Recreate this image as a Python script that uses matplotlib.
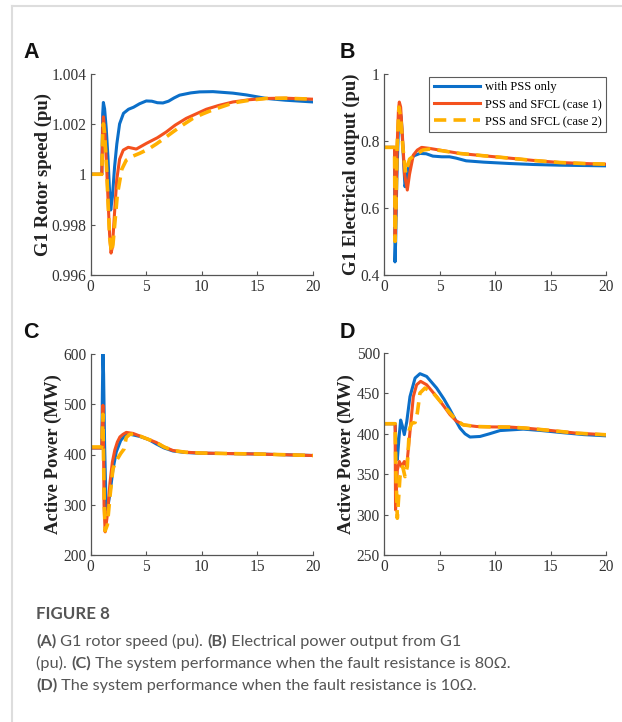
import matplotlib
matplotlib.use('Agg')
import matplotlib.pyplot as plt
from matplotlib.lines import Line2D

# ---- Panel A: G1 rotor speed (pu)
a_t_pss = [0, 1.0, 1.08, 1.14, 1.25, 1.4, 1.55, 1.7, 1.8, 1.95, 2.15, 2.35, 2.6, 2.95, 3.4, 3.85,
           4.4, 5.0, 5.5, 6.0, 6.5, 7.0, 7.5, 8.0, 9.0, 9.8, 11, 12.8, 14, 15.8, 17.5, 20]
a_pss = [1.0, 1.0, 1.0024, 1.00285, 1.0026, 1.0018, 1.0007, 0.9993, 0.99858, 0.9991, 1.0003, 1.0012,
         1.0020, 1.00242, 1.00258, 1.00266, 1.0028, 1.00291, 1.0029, 1.00284, 1.00283, 1.0029,
         1.00303, 1.00314, 1.00323, 1.00327, 1.00328, 1.00322, 1.00315, 1.00301, 1.00294, 1.00287]
a_t_c1 = [0, 1.0, 1.08, 1.14, 1.25, 1.4, 1.55, 1.7, 1.83, 1.95, 2.15, 2.34, 2.6, 2.93, 3.38, 4.1,
          5.03, 6.0, 6.8, 7.6, 8.6, 9.5, 10.4, 11.5, 12.8, 14.3, 15.8, 17.5, 20]
a_c1 = [1.0, 1.0, 1.0018, 1.00228, 1.0018, 1.0006, 0.9991, 0.9976, 0.99687, 0.9971, 0.9985, 0.99977,
        1.0006, 1.00096, 1.00107, 1.001, 1.00123, 1.00145, 1.00168, 1.00195, 1.00222, 1.0024,
        1.00258, 1.00273, 1.00287, 1.00296, 1.00301, 1.00302, 1.00298]
a_t_c2 = [0, 1.0, 1.08, 1.14, 1.25, 1.4, 1.55, 1.7, 1.87, 2.0, 2.2, 2.4, 2.8, 3.2, 3.8, 4.4, 5.2,
          5.9, 6.6, 7.4, 8.3, 9.2, 10.1, 11.0, 12.0, 12.8, 14.3, 15.8, 17.5, 20]
a_c2 = [1.0, 1.0, 1.0016, 1.002, 1.0016, 1.0005, 0.9990, 0.9975, 0.9969, 0.9972, 0.9982, 0.9992,
        1.0002, 1.00056, 1.00072, 1.00083, 1.001, 1.0012, 1.00142, 1.00168, 1.00196, 1.00222,
        1.0024, 1.00256, 1.00271, 1.00283, 1.00294, 1.00301, 1.00302, 1.00298]

# ---- Panel B: G1 electrical output (pu)
b_t_pss = [0, 0.95, 0.99, 1.05, 1.15, 1.3, 1.44, 1.55, 1.7, 1.89, 2.05, 2.34, 2.7, 3.24, 3.8,
           4.4, 5.2, 5.9, 6.5, 7.4, 9.0, 11.3, 13.5, 15.8, 18, 20]
b_pss = [0.78, 0.78, 0.439, 0.5, 0.68, 0.84, 0.886, 0.87, 0.78, 0.663, 0.69, 0.742, 0.755, 0.762,
         0.761, 0.754, 0.752, 0.752, 0.748, 0.74, 0.736, 0.732, 0.729, 0.727, 0.726, 0.725]
b_t_c1 = [0, 0.95, 1.0, 1.08, 1.18, 1.3, 1.38, 1.5, 1.65, 1.85, 2.1, 2.3, 2.64, 3.0, 3.39, 4.1,
          5.0, 6.8, 9.0, 11.3, 13.5, 15.8, 18, 20]
b_c1 = [0.78, 0.78, 0.514, 0.6, 0.78, 0.89, 0.915, 0.9, 0.82, 0.7, 0.653, 0.7, 0.757, 0.772,
        0.78, 0.777, 0.772, 0.762, 0.755, 0.748, 0.741, 0.735, 0.732, 0.73]
b_t_c2 = [0, 0.95, 1.0, 1.08, 1.18, 1.35, 1.5, 1.7, 1.95, 2.1, 2.3, 2.7, 3.1, 3.5, 4.1, 5.0, 6.8,
          9.0, 11.3, 13.5, 15.8, 18, 20]
b_c2 = [0.78, 0.78, 0.5, 0.6, 0.78, 0.90, 0.87, 0.78, 0.703, 0.72, 0.745, 0.755, 0.763, 0.772,
        0.775, 0.771, 0.762, 0.755, 0.748, 0.741, 0.735, 0.732, 0.73]

# ---- Panel C: active power (MW), fault resistance 80 ohm
c_t_pss = [0, 1.0, 1.05, 1.1, 1.16, 1.25, 1.38, 1.5, 1.75, 2.0, 2.3, 2.7, 3.1, 3.6, 4.4, 5.2,
           5.9, 6.6, 7.4, 8.5, 9.8, 12, 15, 17.5, 20]
c_pss = [413, 413, 520, 603, 560, 420, 300, 290, 325, 370, 405, 428, 438, 440, 436, 430, 421,
         413, 407, 404, 402.6, 402, 401, 399.5, 398]
c_t_c1 = [0, 1.0, 1.05, 1.1, 1.15, 1.2, 1.3, 1.5, 1.73, 1.95, 2.17, 2.4, 2.63, 2.9, 3.2, 3.8,
          4.4, 5.2, 5.9, 6.6, 7.4, 8.5, 9.8, 12, 15, 17.5, 20]
c_c1 = [413, 413, 460, 498, 420, 300, 246, 280, 343, 385, 409, 425, 435, 440, 444, 442, 437,
        430, 424, 415, 408, 404.6, 403, 402, 401, 399.5, 398]
c_t_c2 = [0, 1.0, 1.05, 1.1, 1.15, 1.22, 1.3, 1.5, 1.75, 2.0, 2.2, 2.4, 2.7, 3.0, 3.2, 3.5,
          3.9, 4.4, 5.2, 5.9, 6.6, 7.4, 8.5, 9.8, 12, 15, 17.5, 20]
c_c2 = [415, 415, 450, 480, 400, 300, 248, 260, 320, 371, 383, 391, 402, 411, 434, 440, 441,
        437, 430, 424, 415, 408, 404.6, 403, 402, 401, 399.5, 398]

# ---- Panel D: active power (MW), fault resistance 10 ohm
d_t_pss = [0, 1.0, 1.1, 1.2, 1.35, 1.5, 1.65, 1.83, 2.05, 2.34, 2.8, 3.24, 3.84, 4.74, 5.4,
           5.95, 6.4, 6.85, 7.3, 7.75, 8.65, 9.5, 10.45, 12.55, 14.2, 15.86, 18, 20]
d_pss = [412.5, 412.5, 385, 368, 395, 417, 410, 399, 415, 446, 469, 474.4, 471, 456.6, 443,
         429.8, 418, 407, 400, 396, 396.7, 400, 404, 405.8, 404, 401.7, 399, 397.5]
d_t_c1 = [0, 1.0, 1.04, 1.2, 1.38, 1.59, 1.83, 2.04, 2.3, 2.64, 2.94, 3.3, 3.84, 4.74, 5.4,
          5.95, 6.5, 7.15, 8.35, 9.8, 11.35, 12.8, 14.35, 15.8, 17.36, 20]
d_c1 = [412.5, 412.5, 305.8, 355, 365.7, 359.5, 365.7, 359.5, 396.7, 446, 460.7, 464.9, 460.7,
        446, 434, 423.6, 416, 411, 409, 408.5, 408.3, 407, 405, 403, 400.8, 398.8]
d_t_c2 = [0, 1.0, 1.08, 1.2, 1.44, 1.68, 1.89, 2.1, 2.28, 2.5, 2.8, 3.0, 3.24, 3.69, 4.44, 5.2,
          5.95, 6.5, 7.15, 8.35, 9.8, 11.35, 12.8, 14.35, 15.8, 17.36, 20]
d_c2 = [412.5, 412.5, 350, 295.5, 347, 359.5, 347, 359.5, 405, 413, 414, 425.6, 450.4, 456.6,
        450.4, 438, 425.6, 417, 411, 409, 408.5, 408.3, 407, 405, 403, 400.8, 398.8]

labels = ['with PSS only', 'PSS and SFCL (case 1)', 'PSS and SFCL (case 2)']
c_blue = '#0B6FC9'
c_red = '#F4511E'
c_yel = '#FFB000'

W, H = 622, 722
fig = plt.figure(figsize=(W / 100, H / 100), dpi=100)

# gray frame lines of the page
fig.add_artist(Line2D([12 / W, 12 / W], [0, 1 - 6 / H], color='#dddddd', lw=1.5))
fig.add_artist(Line2D([12 / W, 1], [1 - 6 / H, 1 - 6 / H], color='#dddddd', lw=1.5))


def make_ax(left, top, right, bottom):
    return fig.add_axes([left / W, 1 - bottom / H, (right - left) / W, (bottom - top) / H])


def style(ax, ylim, yticks, ylabels, ylabel, lab_x):
    ax.set_xlim(0, 20)
    ax.set_ylim(*ylim)
    ax.set_xticks([0, 5, 10, 15, 20])
    ax.set_yticks(yticks)
    ax.set_yticklabels(ylabels)
    for s in ['top', 'right']:
        ax.spines[s].set_visible(False)
    for s in ['left', 'bottom']:
        ax.spines[s].set_color('#555555')
        ax.spines[s].set_linewidth(0.9)
    ax.tick_params(direction='in', length=3, width=0.8, color='#555555',
                   labelcolor='#333333', labelsize=11.2, pad=3)
    for lbl in ax.get_xticklabels() + ax.get_yticklabels():
        lbl.set_fontfamily('Liberation Serif')
    ax.set_ylabel(ylabel, fontfamily='Liberation Serif', fontweight='bold', fontsize=13.5,
                  color='#222222')
    ax.yaxis.set_label_coords(lab_x, 0.5)


def draw(ax, tb, yb, tr, yr, ty, yy):
    ax.plot(tb, yb, color=c_blue, lw=2.2, label=labels[0], solid_joinstyle='round')
    ax.plot(tr, yr, color=c_red, lw=2.2, label=labels[1], solid_joinstyle='round')
    ax.plot(ty, yy, color=c_yel, lw=2.6, ls=(0, (3.4, 2.0)), label=labels[2])


axA = make_ax(90.7, 73.5, 313, 275)
draw(axA, a_t_pss, a_pss, a_t_c1, a_c1, a_t_c2, a_c2)
style(axA, (0.996, 1.004), [0.996, 0.998, 1.0, 1.002, 1.004],
      ['0.996', '0.998', '1', '1.002', '1.004'], 'G1 Rotor speed (pu)', -0.172)

axB = make_ax(384, 73.5, 606, 275)
draw(axB, b_t_pss, b_pss, b_t_c1, b_c1, b_t_c2, b_c2)
style(axB, (0.4, 1.0), [0.4, 0.6, 0.8, 1.0], ['0.4', '0.6', '0.8', '1'],
      'G1 Electrical output (pu)', -0.108)
leg = axB.legend(loc='upper right', bbox_to_anchor=(1.0, 0.985), frameon=True, fancybox=False,
                 prop={'family': 'Liberation Serif', 'size': 9}, handlelength=3.7,
                 borderpad=0.35, labelspacing=0.42, handletextpad=0.4, borderaxespad=0.0)
leg.get_frame().set_edgecolor('#333333')
leg.get_frame().set_linewidth(0.8)

axC = make_ax(90.7, 354, 313, 555)
draw(axC, c_t_pss, c_pss, c_t_c1, c_c1, c_t_c2, c_c2)
style(axC, (200, 600), [200, 300, 400, 500, 600], ['200', '300', '400', '500', '600'],
      'Active Power (MW)', -0.13)

axD = make_ax(384, 353, 606, 555)
draw(axD, d_t_pss, d_pss, d_t_c1, d_c1, d_t_c2, d_c2)
style(axD, (250, 500), [250, 300, 350, 400, 450, 500],
      ['250', '300', '350', '400', '450', '500'], 'Active Power (MW)', -0.13)

# panel letters
for letter, x, y in [('A', 23, 58), ('B', 340, 58), ('C', 23, 338), ('D', 340, 338)]:
    fig.text(x / W, 1 - y / H, letter, fontfamily='Liberation Sans', fontweight='bold',
             fontsize=15.5, color='#111111', va='baseline', ha='left')

# caption
cap_col = '#555555'
fig.text(36 / W, 1 - 619 / H, 'FIGURE 8', fontfamily='Lato', fontweight='bold', fontsize=12.2,
         color=cap_col, va='baseline')

cap_lines = [
    [('(A)', True), (' G1 rotor speed (pu). ', False), ('(B)', True),
     (' Electrical power output from G1', False)],
    [('(pu). ', False), ('(C)', True),
     (' The system performance when the fault resistance is 80\u03a9.', False)],
    [('(D)', True), (' The system performance when the fault resistance is 10\u03a9.', False)],
]
renderer = fig.canvas.get_renderer()
for i, pieces in enumerate(cap_lines):
    x = 36
    yb = 646 + i * 22
    for txt, bold in pieces:
        t = fig.text(x / W, 1 - yb / H, txt, fontfamily='Lato',
                     fontweight='bold' if bold else 'normal', fontsize=11.7,
                     color=cap_col, va='baseline', ha='left')
        x += t.get_window_extent(renderer).width

fig.savefig('out.png', dpi=100)
